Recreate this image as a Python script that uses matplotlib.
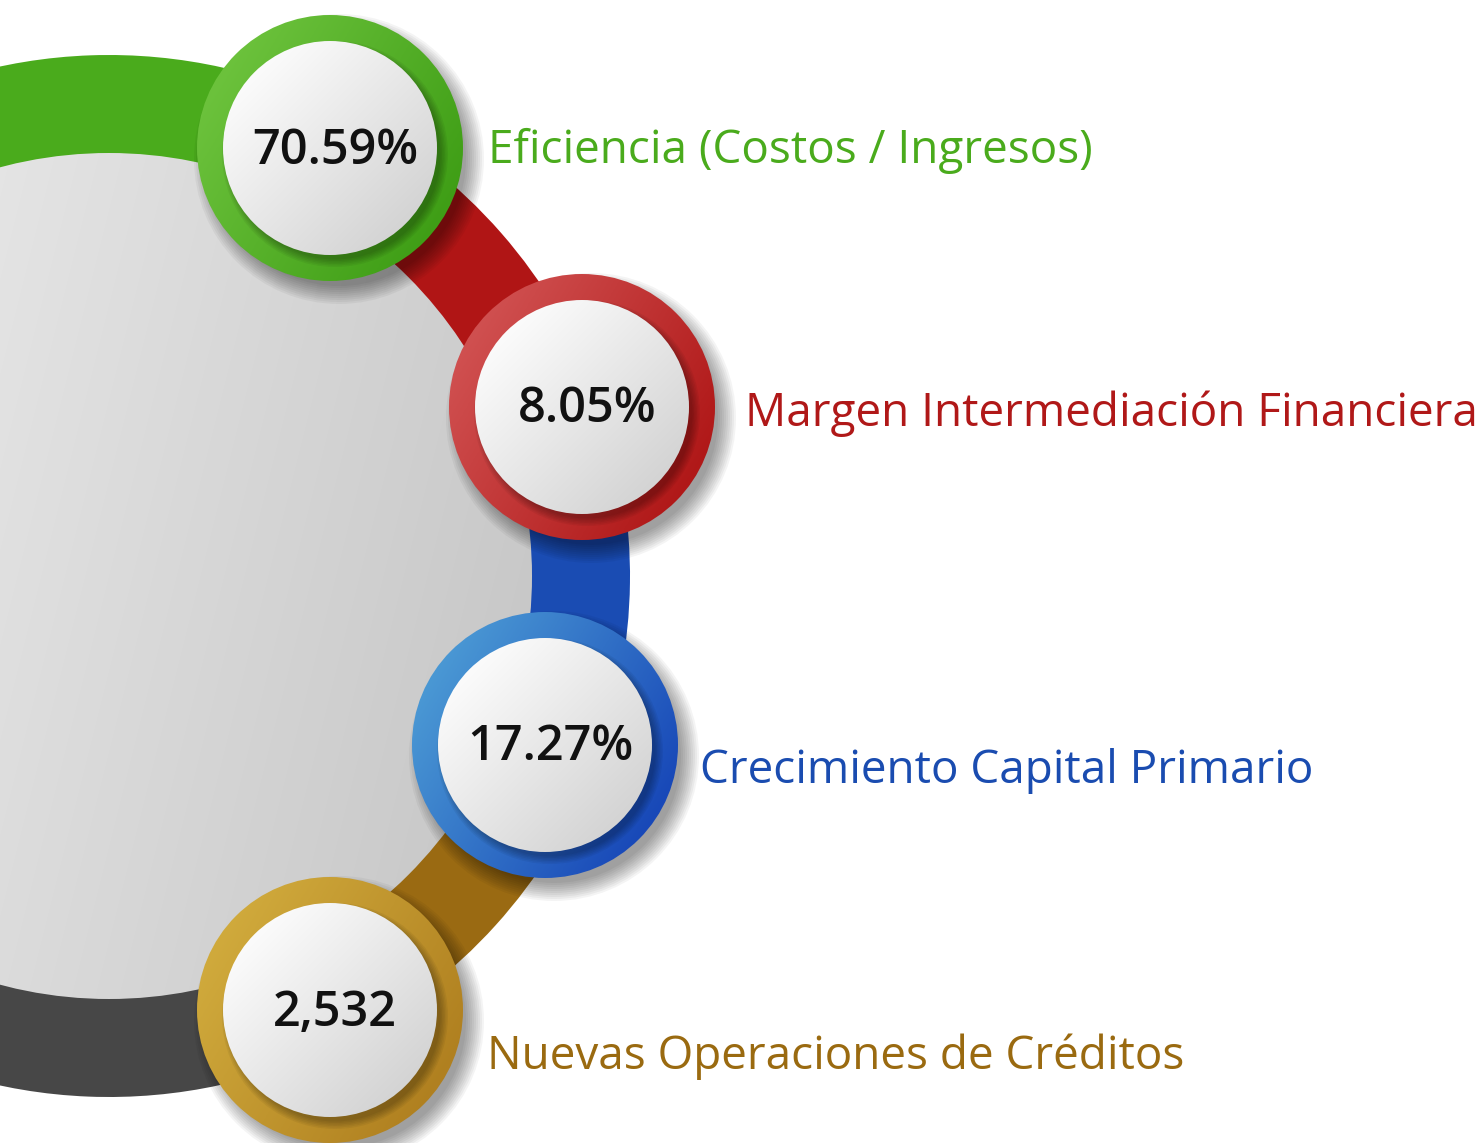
import numpy as np
import matplotlib
matplotlib.use("Agg")
import matplotlib.pyplot as plt
from matplotlib.patches import Circle, Wedge
from matplotlib.colors import LinearSegmentedColormap

# data
values = ["70.59%", "8.05%", "17.27%", "2,532"]
labels = ["Eficiencia (Costos / Ingresos)", "Margen Intermediación Financiera",
          "Crecimiento Capital Primario", "Nuevas Operaciones de Créditos"]
band_colors = ["#4aab1c", "#b01515", "#1a4cb3", "#9a6a12"]
ring_light = ["#6cc23c", "#d05050", "#4a98d4", "#d0aa3c"]
ring_dark = ["#3f9e16", "#b01818", "#1848b8", "#b08020"]
label_colors = ["#4aab1c", "#b01818", "#1a4cb0", "#9a6a10"]
tail_color = "#474747"

# layout (pixel coords)
W, H = 1482, 1143
cx, cy = 109, 576
R_out, R_w = 521, 100
R_in = 421
centers = [(330, 148), (582, 407), (545, 745), (330, 1010)]
r_ring, r_face = 133, 107
label_xy = [(488, 151), (745, 414), (700, 771), (487, 1057)]

fig = plt.figure(figsize=(W / 100, H / 100), dpi=100)
ax = fig.add_axes([0, 0, 1, 1])
ax.set_xlim(0, W)
ax.set_ylim(H, 0)
ax.set_aspect("equal")
ax.axis("off")


def grad_disc(x0, y0, r, c1, c2, z, direction=(1, 1)):
    n = 200
    xs = np.linspace(x0 - r, x0 + r, n)
    ys = np.linspace(y0 - r, y0 + r, n)
    X, Y = np.meshgrid(xs, ys)
    g = ((X - x0) * direction[0] + (Y - y0) * direction[1]) / (r * np.hypot(*direction))
    g = (g + 1) / 2
    cmap = LinearSegmentedColormap.from_list("g", [c1, c2])
    im = ax.imshow(g, cmap=cmap, vmin=0, vmax=1, origin="upper",
                   extent=(x0 - r, x0 + r, y0 + r, y0 - r), zorder=z, interpolation="bilinear")
    clip = Circle((x0, y0), r, transform=ax.transData, facecolor="none", edgecolor="none")
    ax.add_patch(clip)
    im.set_clip_path(clip)
    return im


def shadow(x0, y0, r, z):
    for k in range(10):
        ax.add_patch(Circle((x0 + 9, y0 + 11), r + 12 - k * 2.0, facecolor="black",
                            alpha=0.045, edgecolor="none", zorder=z))


# ring angles from the circle centres
angs = [np.degrees(np.arctan2(y - cy, x - cx)) for x, y in centers]
bounds = [-180] + angs + [180]
seg_colors = band_colors + [tail_color]
for i in range(5):
    ax.add_patch(Wedge((cx, cy), R_out, bounds[i], bounds[i + 1], width=R_w,
                       facecolor=seg_colors[i], edgecolor="none", zorder=1))

# big grey disc
grad_disc(cx, cy, R_in + 2, "#eeeeee", "#c8c8c8", 2, direction=(1, 0.25))

# small circles
for i, (x, y) in enumerate(centers):
    shadow(x, y, r_ring, 3)
    grad_disc(x, y, r_ring, ring_light[i], ring_dark[i], 4, direction=(1, 0.6))
    for k in range(6):
        ax.add_patch(Circle((x + 5, y + 6), r_face + 6 - k * 1.5, facecolor="black",
                            alpha=0.05, edgecolor="none", zorder=5))
    grad_disc(x, y, r_face, "#fbfbfb", "#d4d4d4", 6, direction=(1, 1))
    ax.text(x + 5, y + 3, values[i], fontsize=35, family="Open Sans", weight="semibold",
            color="#111111", ha="center", va="center", zorder=7)
    lx, ly = label_xy[i]
    ax.text(lx, ly, labels[i], fontsize=33, family="Open Sans", color=label_colors[i],
            ha="left", va="center", zorder=7)

fig.savefig("out.png", dpi=100)
